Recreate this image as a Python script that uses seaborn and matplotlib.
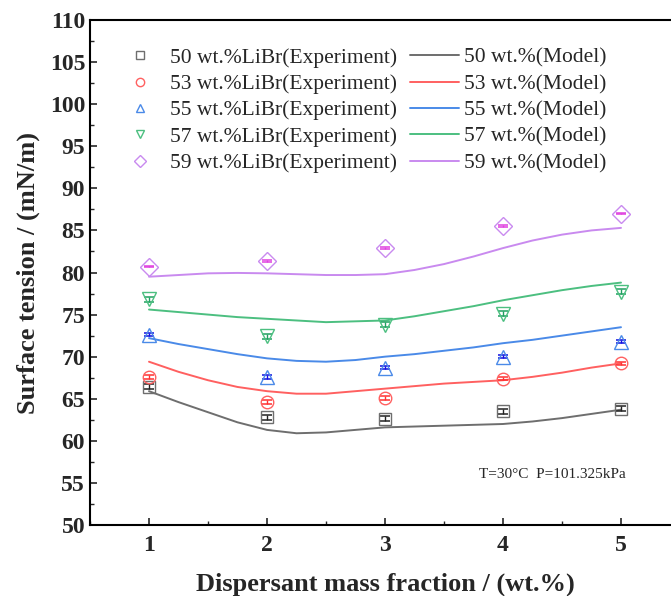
import pandas as pd
import matplotlib.pyplot as plt
import seaborn as sns
from matplotlib.lines import Line2D
from matplotlib.ticker import MultipleLocator

# Experimental points (dispersant mass fraction 1..5 wt.%)
x_exp = [1, 2, 3, 4, 5]
exp_50 = [66.4, 62.8, 62.6, 63.5, 63.8]
exp_53 = [67.6, 64.6, 65.1, 67.4, 69.2]
exp_55 = [72.6, 67.6, 68.7, 70.0, 71.8]
exp_57 = [76.8, 72.4, 73.8, 75.1, 77.7]
exp_59 = [80.7, 81.4, 82.9, 85.5, 87.0]
err_50 = [0.3, 0.3, 0.3, 0.3, 0.3]
err_53 = [0.2, 0.2, 0.2, 0.2, 0.2]
err_55 = [0.2, 0.2, 0.2, 0.2, 0.2]
err_57 = [0.3, 0.3, 0.3, 0.3, 0.3]
err_59 = [0.1, 0.1, 0.1, 0.1, 0.1]

# Model curves
x_model = [1, 1.25, 1.5, 1.75, 2, 2.25, 2.5, 2.75, 3, 3.25, 3.5, 3.75, 4, 4.25, 4.5, 4.75, 5]
mod_50 = [65.9, 64.6, 63.4, 62.2, 61.3, 60.9, 61.0, 61.3, 61.6, 61.7, 61.8, 61.9, 62.0, 62.3, 62.7, 63.2, 63.7]
mod_53 = [69.4, 68.2, 67.2, 66.4, 65.9, 65.6, 65.6, 65.9, 66.2, 66.5, 66.8, 67.0, 67.2, 67.6, 68.1, 68.7, 69.2]
mod_55 = [72.2, 71.5, 70.9, 70.3, 69.8, 69.5, 69.4, 69.6, 70.0, 70.3, 70.7, 71.1, 71.6, 72.0, 72.5, 73.0, 73.5]
mod_57 = [75.6, 75.3, 75.0, 74.7, 74.5, 74.3, 74.1, 74.2, 74.3, 74.8, 75.4, 76.0, 76.7, 77.3, 77.9, 78.4, 78.8]
mod_59 = [79.5, 79.7, 79.9, 79.95, 79.9, 79.8, 79.7, 79.7, 79.8, 80.3, 81.0, 81.9, 82.9, 83.8, 84.5, 85.0, 85.3]

labels = ['50', '53', '55', '57', '59']
exp_all = [exp_50, exp_53, exp_55, exp_57, exp_59]
err_all = [err_50, err_53, err_55, err_57, err_59]
mod_all = [mod_50, mod_53, mod_55, mod_57, mod_59]
colors = ['#6e6e6e', '#ff6060', '#4a8ae8', '#4cbf80', '#c98aef']
bar_colors = ['#222222', '#ff3030', '#1010e0', '#20a060', '#e040e0']
markers = ['s', 'o', '^', 'v', 'D']
msizes = [9, 9, 10, 10, 9]

sns.set_style('ticks')
plt.rcParams['font.family'] = ['Liberation Serif', 'DejaVu Serif']
plt.rcParams['xtick.direction'] = 'in'
plt.rcParams['ytick.direction'] = 'in'

fig = plt.figure(figsize=(6.71, 5.96), dpi=100)
ax = fig.add_axes([90 / 671, 71 / 596, 590 / 671, 505 / 596])

model_df = pd.DataFrame({
    'x': x_model * len(labels),
    'y': sum(mod_all, []),
    'conc': [l for l in labels for _ in x_model],
})
sns.lineplot(data=model_df, x='x', y='y', hue='conc', palette=colors,
             linewidth=1.4, legend=False, ax=ax)

for vals, errs, c, bc, m, ms in zip(exp_all, err_all, colors, bar_colors, markers, msizes):
    ax.errorbar(x_exp, vals, yerr=errs, fmt='none', ecolor=bc, elinewidth=1.0,
                capsize=3.5, capthick=1.1, zorder=3)
    ax.plot(x_exp, vals, linestyle='none', marker=m, markersize=ms,
            markerfacecolor='none', markeredgecolor=c, markeredgewidth=1.0, zorder=4)

ax.set_xlim(0.5, 5.5)
ax.set_ylim(50, 110)
ax.xaxis.set_major_locator(MultipleLocator(1))
ax.xaxis.set_minor_locator(MultipleLocator(0.5))
ax.yaxis.set_major_locator(MultipleLocator(5))
ax.yaxis.set_minor_locator(MultipleLocator(2.5))
ax.tick_params(which='major', length=5, width=1.2, labelsize=17)
ax.tick_params(which='minor', length=3, width=1.0)
ax.tick_params(axis='x', which='major', pad=7)
for lab in ax.get_xticklabels() + ax.get_yticklabels():
    lab.set_fontweight('bold')
for sp in ax.spines.values():
    sp.set_linewidth(1.5)
    sp.set_color('black')

ax.set_xlabel('Dispersant mass fraction / (wt.%)', fontsize=19, fontweight='bold', labelpad=12)
ax.set_ylabel('Surface tension / (mN/m)', fontsize=19, fontweight='bold', labelpad=7)

ax.text(4.42, 56.0, 'T=30°C  P=101.325kPa', fontsize=11, ha='center', va='center')

marker_handles = [Line2D([], [], linestyle='none', marker=m, markersize=6,
                         markerfacecolor='none', markeredgecolor=c)
                  for m, c in zip(markers, colors)]
line_handles = [Line2D([], [], color=c, linewidth=1.4) for c in colors]
texts = [f'{l} wt.%LiBr(Experiment)' for l in labels] + [f'{l} wt.%(Model)' for l in labels]
ax.legend(marker_handles + line_handles, texts, ncol=2, frameon=False,
          fontsize=15.5, loc='upper left', bbox_to_anchor=(0.029, 0.962),
          handlelength=2.28, handletextpad=0.26, columnspacing=0.56,
          labelspacing=0.29, borderaxespad=0)

fig.savefig('out.png', dpi=100)
